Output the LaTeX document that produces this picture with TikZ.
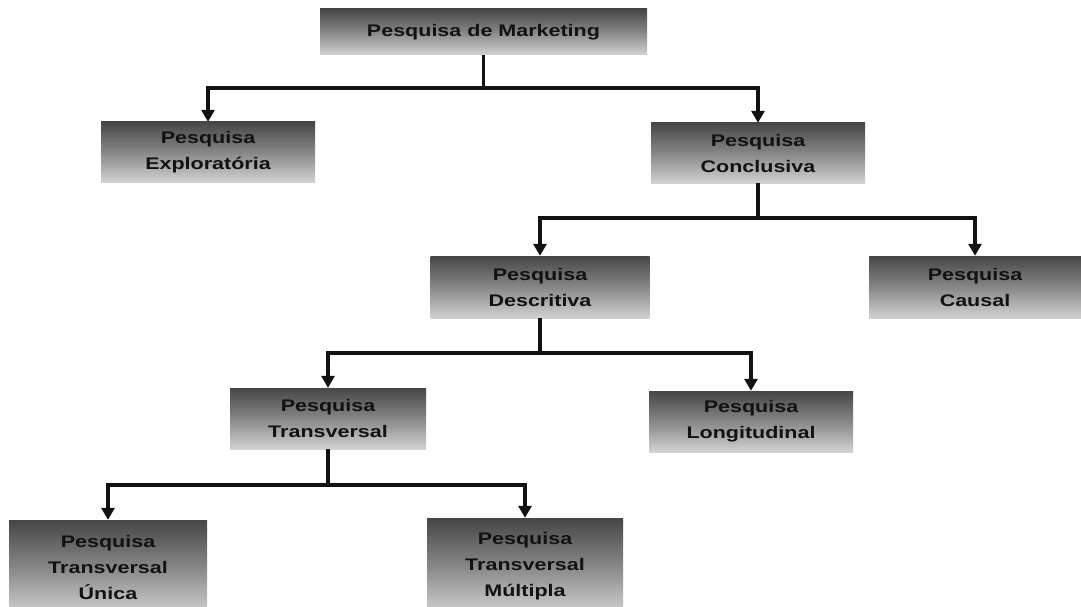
\documentclass[tikz,border=0pt]{standalone}
\usepackage{fontspec}
\setmainfont{Liberation Sans}
\newfontfamily\boxfont[FakeStretch=1.28]{Liberation Sans}
\usetikzlibrary{arrows.meta}
\definecolor{boxtop}{RGB}{70,70,70}
\definecolor{boxbot}{RGB}{210,210,210}
\definecolor{inkc}{RGB}{18,18,18}
\begin{document}
\begin{tikzpicture}[x=1pt,y=-1pt,
  box/.style={inner sep=0pt, align=center, font=\boxfont\fontsize{16.8}{26}\selectfont\bfseries,
    text=inkc, top color=boxtop, bottom color=boxbot, middle color={rgb,255:red,135;green,135;blue,135}},
  wire/.style={draw=inkc, line width=3.5pt},
  arr/.style={wire, -{Triangle[width=13pt,length=12pt]}}]
\useasboundingbox[fill=white] (0,0) rectangle (1081,607);
\node[box, minimum width=327pt, minimum height=46pt] (mkt) at (483.5,32) {Pesquisa de Marketing};
\node[box, minimum width=214pt, minimum height=60pt] (exp) at (208,152) {Pesquisa\\Explorat\'oria};
\node[box, minimum width=214pt, minimum height=60pt] (con) at (758,153) {Pesquisa\\Conclusiva};
\node[box, minimum width=219pt, minimum height=62pt] (des) at (540,287) {Pesquisa\\Descritiva};
\node[box, minimum width=212pt, minimum height=62pt] (cau) at (975,287) {Pesquisa\\Causal};
\node[box, minimum width=196pt, minimum height=61pt] (tra) at (328,418.5) {Pesquisa\\Transversal};
\node[box, minimum width=204pt, minimum height=61pt] (lon) at (751,421.5) {Pesquisa\\Longitudinal};
\node[box, minimum width=198pt, minimum height=95pt] (uni) at (108,567.5) {Pesquisa\\Transversal\\\'Unica};
\node[box, minimum width=196pt, minimum height=96pt] (mul) at (525,566) {Pesquisa\\Transversal\\M\'ultipla};
\coordinate (j1) at (483.5,88);
\coordinate (j2) at (758,218);
\coordinate (j3) at (540,353);
\coordinate (j4) at (328,485);
\draw[wire] (mkt.south) -- (j1);
\draw[arr] (j1) -| (exp.north);
\draw[arr] (j1) -| (con.north);
\draw[wire] (con.south) -- (j2);
\draw[arr] (j2) -| (des.north);
\draw[arr] (j2) -| (cau.north);
\draw[wire] (des.south) -- (j3);
\draw[arr] (j3) -| (tra.north);
\draw[arr] (j3) -| (lon.north);
\draw[wire] (tra.south) -- (j4);
\draw[arr] (j4) -| (uni.north);
\draw[arr] (j4) -| (mul.north);
\end{tikzpicture}
\end{document}
